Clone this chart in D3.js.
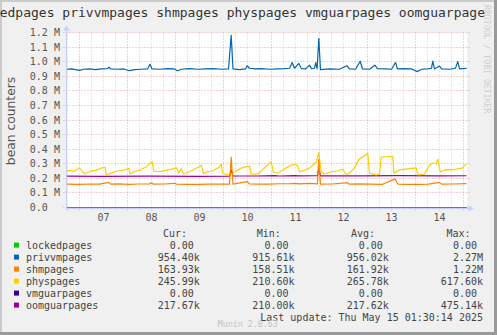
<!DOCTYPE html>
<html>
<head>
<meta charset="utf-8">
<script src="https://cdn.jsdelivr.net/npm/d3@7"></script>
<style>
  html, body { margin: 0; padding: 0; background: #f0f0f0; }
  svg { display: block; }
  text { white-space: pre; }
</style>
</head>
<body>
<svg id="chart" width="497" height="335"></svg>
<script>
// ---- data -------------------------------------------------------------
const chartTitle = "lockedpages privvmpages shmpages physpages vmguarpages oomguarpages";
const yAxisLabel = "bean counters";
const startTime = new Date(2025, 4, 6, 17, 30);
const endTime = new Date(2025, 4, 15, 1, 30);

const seriesNames = ["lockedpages", "privvmpages", "shmpages", "physpages", "vmguarpages", "oomguarpages"];
const seriesColors = ["#00cc00", "#0066b3", "#ff8000", "#ffcc00", "#330099", "#990099"];

// y ticks (thousands of pages) and their labels
const yTickValues = [0, 100, 200, 300, 400, 500, 600, 700, 800, 900, 1000, 1100, 1200];
const yTickLabels = ["0.0", "0.1 M", "0.2 M", "0.3 M", "0.4 M", "0.5 M", "0.6 M", "0.7 M", "0.8 M", "0.9 M", "1.0 M", "1.1 M", "1.2 M"];

// samples: hours since startTime, values in thousands of pages
const lockedHours = [0, 50, 100, 150, 200];
const lockedValues = [0, 0, 0, 0, 0];

const vmguarHours = [0, 50, 100, 150, 200];
const vmguarValues = [0, 0, 0, 0, 0];

const privvmHours = [0, 2.5, 4.5, 6.5, 8.5, 11.5, 14.5, 17.5, 20.5, 21.25, 22, 25.5, 28.5, 31.5, 34, 37.5, 40.5, 41.75, 42.75,
  46.5, 50.5, 54, 55.5, 57.5, 61.5, 65.5, 69.5, 73.5, 77.5, 81, 82.35, 83.25, 86.5, 89.5, 90.35, 91.5, 94.5, 97.5, 101.5,
  105.5, 108.5, 111.5, 112.85, 114, 116.15, 117.5, 119.5, 121.5, 122.5, 124, 124.6, 125.3, 126.15, 127, 131.5, 136.5,
  140.15, 141.5, 144.5, 146.85, 148, 151.5, 154.15, 155.5, 159.5, 162.5, 164.5, 165.5, 169, 172.5, 175.5, 177.5, 180.5,
  182.5, 183.15, 184, 186.5, 187.5, 191.5, 194.5, 195.65, 196.5, 200];
const privvmValues = [948, 950, 946, 940, 948, 950, 946, 950, 952, 962, 950, 948, 950, 938, 946, 948, 950, 982, 950,
  948, 952, 950, 938, 948, 952, 948, 950, 952, 948, 950, 1180, 950, 946, 950, 972, 955, 950, 952, 948,
  950, 952, 955, 994, 955, 988, 952, 950, 976, 952, 955, 994, 950, 1160, 945, 950, 948,
  972, 950, 948, 1003, 950, 948, 976, 952, 950, 948, 994, 950, 952, 950, 932, 948, 950,
  955, 1003, 950, 970, 950, 948, 955, 1000, 950, 954.4];

const shmHours = [0, 6.5, 11.5, 16.5, 21, 22, 26, 31.5, 36, 41.5, 42.5, 43.5, 49, 54, 55, 60, 66.5, 71, 76.5, 81.5, 82.35,
  83.25, 90.35, 91.5, 96, 101.5, 106, 111.5, 114, 116.5, 121.5, 125.5, 126.15, 127, 133, 140.5, 141.5, 146, 151.5, 158,
  164.35, 165.75, 171, 176.5, 181, 186.5, 187.5, 193, 200];
const shmValues = [160, 158, 161, 160, 172, 160, 162, 158, 161, 162, 170, 160, 161, 166, 160, 159, 158, 160, 160, 160, 345,
  160, 178, 162, 160, 160, 163, 163, 166, 162, 165, 162, 330, 160, 161, 170, 160, 162, 160, 159,
  196, 160, 159, 158, 160, 172, 160, 161, 163.9];

const physHours = [0, 1.5, 3.5, 5.5, 6.5, 7.5, 9, 10.5, 12.35, 14.5, 16.5, 18.15, 19.25, 19.85, 21.5, 24, 26.5, 29, 30.65,
  31.25, 31.75, 34, 37.35, 40, 42.85, 43.65, 46.5, 49.5, 53.15, 55.15, 56, 57.35, 58.5, 61.5, 64, 66.5, 67.35, 68.5, 70.5,
  73.15, 76.15, 77.35, 78.15, 80.65, 82.35, 84.85, 87.35, 89.85, 91.5, 92.35, 95.65, 98.5, 102.35, 103.5, 105.65, 109,
  112.35, 114.85, 115.65, 116.5, 119, 121.5, 124.85, 126.15, 127.35, 129, 132.35, 135.5, 138.15, 139.85, 141.5, 144,
  146.15, 148.5, 150.65, 151.5, 154.85, 156.5, 157.35, 160, 163.15, 163.65, 166.5, 170.5, 174.85, 175.65, 179, 181.5,
  183.15, 184.85, 185.65, 186.85, 189.85, 193.15, 195.5, 198.15, 199, 200];
const physValues = [250, 255, 248, 262, 270, 255, 230, 240, 250, 255, 265, 274, 276, 224, 232, 245, 252, 258, 265,
  268, 230, 245, 260, 280, 315, 250, 245, 255, 265, 272, 235, 265, 230, 245, 262, 281, 290, 232, 245,
  252, 275, 298, 235, 222, 232, 250, 270, 280, 282, 228, 230, 265, 315, 240, 235, 265,
  290, 295, 280, 245, 255, 270, 310, 376, 245, 230, 245, 252, 262, 224, 238, 270,
  330, 350, 372, 235, 224, 230, 345, 348, 350, 235, 258, 265, 272, 224, 228, 290,
  305, 300, 330, 245, 260, 258, 265, 272, 290, 292];

const oomguarHours = [0, 16.5, 41.5, 66.5, 81.5, 82.35, 83.25, 95, 104, 106.5, 114, 116.5, 125.5, 126.15, 127, 146.5, 166.5, 186.5, 200];
const oomguarValues = [215, 214, 215, 214, 215, 260, 216, 216, 219, 216, 219, 217, 218, 272, 217, 217, 218, 217, 217.67];

// legend statistics
const legendHeaders = ["Cur:", "Min:", "Avg:", "Max:"];
const curValues = ["0.00 ", "954.40k", "163.93k", "245.99k", "0.00 ", "217.67k"];
const minValues = ["0.00 ", "915.61k", "158.51k", "210.60k", "0.00 ", "210.00k"];
const avgValues = ["0.00 ", "956.02k", "161.92k", "265.78k", "0.00 ", "217.62k"];
const maxValues = ["0.00 ", "2.27M", "1.22M", "617.60k", "0.00 ", "475.14k"];
const lastUpdate = "Last update: Thu May 15 01:30:14 2025";
const watermark = "Munin 2.0.63";
const sideText = "RRDTOOL / TOBI OETIKER";

// ---- drawing ----------------------------------------------------------
const W = 497, H = 335;
const plot = { left: 66.5, right: 466.5, top: 32.5, bottom: 207.5 };
const mono = "'DejaVu Sans Mono', monospace";
const sans = "'DejaVu Sans', sans-serif";

const svg = d3.select("#chart");
const x = d3.scaleTime().domain([startTime, endTime]).range([plot.left, plot.right]);
const y = d3.scaleLinear().domain([0, 1200]).range([plot.bottom, plot.top]);
const at = h => new Date(startTime.getTime() + h * 3600e3);
const py = v => Math.round(y(v) - 0.5) + 0.5;

// clip region for the long title
svg.append("defs").append("clipPath").attr("id", "titleClip")
  .append("rect").attr("x", 0).attr("y", 0).attr("width", 486).attr("height", 30);

// frame
svg.append("rect").attr("width", W).attr("height", H).attr("fill", "#f0f0f0");
svg.append("rect").attr("x", 0).attr("y", 0).attr("width", W).attr("height", 2).attr("fill", "#cbcbcb");
svg.append("rect").attr("x", 0).attr("y", 0).attr("width", 2).attr("height", H).attr("fill", "#cbcbcb");

// title
svg.append("text").attr("x", -31.6).attr("y", 17.3)
  .attr("clip-path", "url(#titleClip)")
  .attr("font-family", mono).attr("font-size", 13).attr("fill", "#333")
  .text(chartTitle);

// canvas
svg.append("rect").attr("x", plot.left + 0.5).attr("y", plot.top)
  .attr("width", plot.right - plot.left).attr("height", plot.bottom - plot.top + 0.5)
  .attr("fill", "#ffffff");

const grid = svg.append("g");
// minor vertical grid every 6 hours
const dayTicks = d3.timeDay.range(startTime, endTime);
const sixHourTicks = d3.timeHour.every(6).range(startTime, endTime)
  .filter(t => t.getHours() !== 0);
grid.selectAll(".minor").data(sixHourTicks).join("line")
  .attr("x1", d => x(d)).attr("x2", d => x(d))
  .attr("y1", plot.top).attr("y2", plot.bottom + 3)
  .attr("stroke", "#cfcfcf").attr("stroke-dasharray", "1,2");
// major horizontal grid
grid.selectAll(".hmajor").data(yTickValues).join("line")
  .attr("x1", plot.left - 3).attr("x2", plot.right + 3)
  .attr("y1", d => py(d)).attr("y2", d => py(d))
  .attr("stroke", "#e8a4a4").attr("stroke-dasharray", "1,2");
// major vertical grid at midnight
grid.selectAll(".vmajor").data(dayTicks).join("line")
  .attr("x1", d => x(d)).attr("x2", d => x(d))
  .attr("y1", plot.top).attr("y2", plot.bottom + 3)
  .attr("stroke", "#e8a4a4").attr("stroke-dasharray", "1,2");

// y tick labels
svg.append("g").selectAll("text").data(yTickValues).join("text")
  .attr("x", 29.8).attr("y", d => py(d) + 3.6)
  .attr("font-family", mono).attr("font-size", 10).attr("fill", "#555")
  .text((d, i) => yTickLabels[i]);

// x tick labels at noon
const noonTicks = dayTicks.map(d => d3.timeHour.offset(d, 12)).filter(d => d < endTime);
svg.append("g").selectAll("text").data(noonTicks).join("text")
  .attr("x", d => x(d)).attr("y", 220.9).attr("text-anchor", "middle")
  .attr("font-family", mono).attr("font-size", 10).attr("fill", "#555")
  .text(d3.timeFormat("%d"));

// y axis label
svg.append("text")
  .attr("transform", "translate(15,121) rotate(-90)")
  .attr("text-anchor", "middle")
  .attr("font-family", sans).attr("font-size", 12.3).attr("fill", "#555")
  .text(yAxisLabel);

// series
const series = [
  { hours: lockedHours, values: lockedValues },
  { hours: privvmHours, values: privvmValues },
  { hours: shmHours, values: shmValues },
  { hours: physHours, values: physValues },
  { hours: vmguarHours, values: vmguarValues },
  { hours: oomguarHours, values: oomguarValues }
];
const line = d3.line().x(d => x(at(d[0]))).y(d => y(d[1]));
const lines = svg.append("g");
for (let i = series.length - 1; i >= 0; i--) {
  const s = series[i];
  lines.append("path")
    .datum(s.hours.map((h, k) => [h, s.values[k]]))
    .attr("d", line)
    .attr("fill", "none")
    .attr("stroke", seriesColors[i])
    .attr("stroke-width", 1.2)
    .attr("stroke-linejoin", "round");
}

// axes with arrows
const axisColor = "#c8ccf8";
svg.append("line").attr("x1", plot.left).attr("x2", plot.right + 4)
  .attr("y1", plot.bottom + 1).attr("y2", plot.bottom + 1).attr("stroke", axisColor);
svg.append("line").attr("x1", plot.left).attr("x2", plot.left)
  .attr("y1", plot.bottom + 3).attr("y2", plot.top - 4).attr("stroke", axisColor);
svg.append("path")
  .attr("d", `M${plot.right + 2},${plot.bottom - 2.5} L${plot.right + 7},${plot.bottom + 1} L${plot.right + 2},${plot.bottom + 4.5} Z`)
  .attr("fill", "#c8d0ff");
svg.append("path")
  .attr("d", `M${plot.left - 3.5},${plot.top - 2} L${plot.left},${plot.top - 7} L${plot.left + 3.5},${plot.top - 2} Z`)
  .attr("fill", "#c8d0ff");

// legend
const legend = svg.append("g").attr("font-family", mono).attr("font-size", 10).attr("fill", "#444");
const headerX = [163, 256.8, 351, 446.5];
legend.selectAll(".hdr").data(legendHeaders).join("text")
  .attr("x", (d, i) => headerX[i]).attr("y", 236.8).text(d => d);
const rowY = i => 248.6 + 12 * i;
legend.selectAll(".sw").data(seriesNames).join("rect")
  .attr("x", 14).attr("y", (d, i) => rowY(i) - 6).attr("width", 5).attr("height", 5)
  .attr("fill", (d, i) => seriesColors[i]);
legend.selectAll(".nm").data(seriesNames).join("text")
  .attr("x", 26).attr("y", (d, i) => rowY(i)).text(d => d);
const columns = [curValues, minValues, avgValues, maxValues];
const colRight = [199.8, 294.5, 388.8, 483];
columns.forEach((col, c) => {
  legend.append("g").selectAll("text").data(col).join("text")
    .attr("x", colRight[c]).attr("y", (d, i) => rowY(i))
    .attr("text-anchor", "end").attr("xml:space", "preserve").text(d => d);
});
legend.append("text").attr("x", 483).attr("y", 320.6).attr("text-anchor", "end").text(lastUpdate);

// watermarks
svg.append("text").attr("x", 247.7).attr("y", 327).attr("text-anchor", "middle")
  .attr("font-family", mono).attr("font-size", 8.3).attr("fill", "#c4c4c4").text(watermark);
svg.append("text").attr("transform", "translate(484,5) rotate(90)")
  .attr("font-family", mono).attr("font-size", 8.2).attr("fill", "#cfcfcf").text(sideText);

// shaded border right and bottom
svg.append("rect").attr("x", W - 3).attr("y", 0).attr("width", 3).attr("height", H).attr("fill", "#999");
svg.append("rect").attr("x", 0).attr("y", H - 3).attr("width", W).attr("height", 3).attr("fill", "#999");
</script>
</body>
</html>
